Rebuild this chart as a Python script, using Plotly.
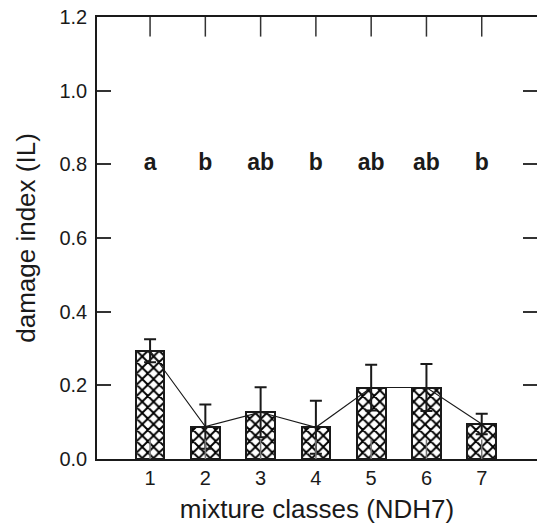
import plotly.graph_objects as go

# ---- data ----
categories = [1, 2, 3, 4, 5, 6, 7]
means = [0.294, 0.088, 0.127, 0.086, 0.194, 0.194, 0.095]
errors = [0.031, 0.060, 0.068, 0.072, 0.062, 0.064, 0.028]
letters = ["a", "b", "ab", "b", "ab", "ab", "b"]
letter_level = [0.8] * 7
y_ticks = [0.0, 0.2, 0.4, 0.6, 0.8, 1.0, 1.2]
y_min, y_max = 0.0, 1.2

FONT = "Liberation Sans, Arial, Helvetica, sans-serif"
INK = "#1a1a1a"

fig = go.Figure()

fig.add_trace(go.Bar(
    x=categories, y=means, width=0.52,
    marker=dict(
        color="white",
        line=dict(color=INK, width=2),
        pattern=dict(shape="x", size=8, solidity=0.42, fgcolor="#000000",
                     bgcolor="white", fgopacity=1),
    ),
    error_y=dict(type="data", array=errors, visible=True, color=INK, thickness=2, width=6),
    showlegend=False, hoverinfo="skip",
))

fig.add_trace(go.Scatter(
    x=categories, y=means, mode="lines",
    line=dict(color=INK, width=1.1),
    showlegend=False, hoverinfo="skip", xaxis="x2", yaxis="y2",
))

# inward tick marks on the top and bottom frame at each category
for level, col in ((y_max, "#333"), (y_min, "#777")):
    fig.add_trace(go.Scatter(
        x=categories, y=[level] * len(categories), mode="markers",
        marker=dict(symbol="line-ns", size=28, line=dict(color=col, width=1.5)),
        cliponaxis=True, showlegend=False, hoverinfo="skip",
    ))

fig.add_trace(go.Scatter(
    x=categories, y=letter_level, mode="text", text=letters,
    textposition="middle center",
    textfont=dict(family=FONT, size=23, color=INK, weight="bold"),
    showlegend=False, hoverinfo="skip",
))

fig.update_xaxes(showgrid=False, zeroline=False)
fig.update_yaxes(showgrid=False, zeroline=False)

fig.update_layout(
    width=537, height=528,
    margin=dict(l=97, r=0, t=17, b=69),
    plot_bgcolor="white", paper_bgcolor="white",
    font=dict(family=FONT, color=INK),
    xaxis=dict(range=[0.04, 8.0], tickmode="array", tickvals=categories,
               showline=True, linecolor=INK, linewidth=1.5,
               ticks="", tickfont=dict(size=20),
               title=dict(text="mixture classes (NDH7)", font=dict(size=26), standoff=12)),
    xaxis2=dict(overlaying="x", side="top", matches="x", anchor="y2",
                showticklabels=False, showline=True, linecolor=INK, linewidth=1.5,
                ticks=""),
    yaxis=dict(range=[y_min, y_max], tickmode="array", tickvals=y_ticks, tickformat=".1f",
               showline=True, linecolor=INK, linewidth=1.5,
               ticks="inside", ticklen=14, tickwidth=1.5, tickcolor="#333",
               tickfont=dict(size=20), ticklabelstandoff=4,
               title=dict(text="damage index (IL)", font=dict(size=26), standoff=16)),
    yaxis2=dict(overlaying="y", side="right", matches="y", anchor="x2",
                tickmode="array", tickvals=y_ticks, showticklabels=False, showline=False,
                ticks="inside", ticklen=14, tickwidth=1.5, tickcolor="#333"),
    bargap=0,
)

fig.write_html("out.html")
